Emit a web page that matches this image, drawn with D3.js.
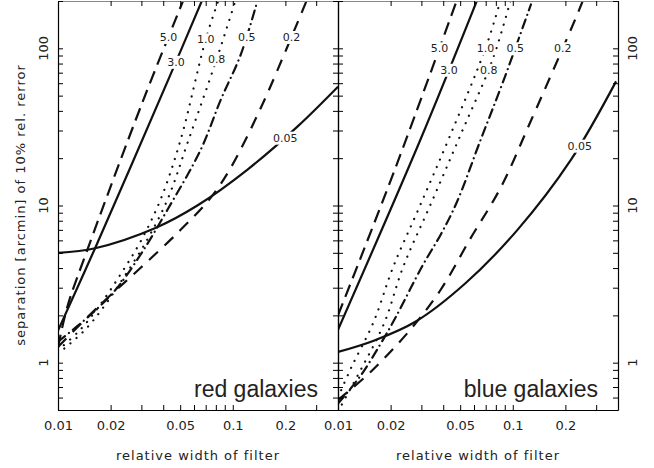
<!DOCTYPE html>
<html>
<head>
<meta charset="utf-8">
<script src="https://cdn.jsdelivr.net/npm/d3@7"></script>
<style>
  body { margin: 0; background: #fff; }
  svg { display: block; font-family: "DejaVu Sans", sans-serif; }
</style>
</head>
<body>
<script>
// axis ticks
const xTicks = [0.01, 0.02, 0.03, 0.04, 0.05, 0.06, 0.07, 0.08, 0.09, 0.1, 0.2, 0.3, 0.4];
const xTickLabels = [0.01, 0.02, 0.05, 0.1, 0.2];
const yTicks = [0.5, 0.6, 0.7, 0.8, 0.9, 1, 2, 3, 4, 5, 6, 7, 8, 9, 10, 20, 30, 40, 50, 60, 70, 80, 90, 100, 200];
const yTickLabels = [1, 10, 100];

const curveNames = ["5.0", "3.0", "1.0", "0.8", "0.5", "0.2", "0.05"];

// red galaxies, [relative width, separation]
const red50 = [[0.01, 1.25], [0.0113, 2.26], [0.0147, 5.2], [0.0308, 47], [0.0523, 204]];
const red30 = [[0.01, 1.6], [0.0163, 5.35], [0.044, 68], [0.067, 204]];
const red10 = [[0.01, 1.2], [0.0134, 1.62], [0.0174, 2.33], [0.0227, 3.62], [0.0296, 5.87], [0.0386, 10.9], [0.0503, 26.2], [0.070, 114], [0.0831, 204]];
const red08 = [[0.01, 1.14], [0.0143, 1.62], [0.0186, 2.33], [0.0243, 3.62], [0.0325, 6.1], [0.0423, 10.9], [0.0559, 26.2], [0.0799, 82], [0.104, 204]];
const red05 = [[0.01, 1.36], [0.0153, 2.01], [0.0213, 2.9], [0.0296, 4.85], [0.0423, 9.4], [0.0655, 22.6], [0.0853, 47], [0.111, 91], [0.139, 204]];
const red02 = [[0.01, 1.26], [0.0174, 2.33], [0.0296, 4.0], [0.0503, 7.0], [0.0747, 11.2], [0.0974, 17.4], [0.145, 42], [0.202, 98], [0.266, 204]];
const red005 = [[0.01, 5.0], [0.0163, 5.35], [0.0361, 7.2], [0.0627, 10], [0.122, 17], [0.236, 32], [0.4, 57]];

// blue galaxies
const blue50 = [[0.01, 2.0], [0.0213, 17.3], [0.048, 204]];
const blue30 = [[0.01, 1.62], [0.0296, 26.2], [0.0627, 204]];
const blue10 = [[0.01, 0.6], [0.0119, 0.93], [0.0159, 1.79], [0.0207, 4.07], [0.0296, 10.1], [0.044, 28.2], [0.070, 101], [0.0853, 204]];
const blue08 = [[0.01, 0.49], [0.0137, 0.93], [0.0184, 1.79], [0.0236, 4.07], [0.0338, 10.1], [0.0503, 28.2], [0.0767, 85], [0.0974, 204]];
const blue05 = [[0.01, 0.55], [0.0134, 0.82], [0.0174, 1.3], [0.0213, 1.93], [0.0304, 4.13], [0.0386, 6.5], [0.0477, 10.4], [0.0655, 26.2], [0.0888, 63], [0.127, 190]];
const blue02 = [[0.01, 0.58], [0.0153, 0.87], [0.0259, 1.62], [0.0386, 2.9], [0.0574, 6.2], [0.0853, 13], [0.127, 34.6], [0.230, 157], [0.253, 204]];
const blue005 = [[0.01, 1.17], [0.0163, 1.39], [0.0277, 1.82], [0.0536, 3.2], [0.1064, 7.0], [0.215, 19.5], [0.39, 61.6]];

// separation at which each curve label sits
const redLabelAt = [118, 82, 114, 85, 118, 118, 27];
const blueLabelAt = [100, 73, 100, 73, 100, 100, 24];

const lineStyle = {
  "5.0": {dash: "13,7", cap: "butt"},
  "3.0": {dash: null, cap: "butt"},
  "1.0": {dash: "0.1,8", cap: "round"},
  "0.8": {dash: "0.1,8", cap: "round"},
  "0.5": {dash: "9,5,0.1,5", cap: "round"},
  "0.2": {dash: "12,9", cap: "butt"},
  "0.05": {dash: null, cap: "butt"}
};

const width = 654, height = 468;
const plotTop = 1, plotBottom = 410, panelW = 280;

const svg = d3.select("body").append("svg")
    .attr("width", width)
    .attr("height", height);

const y = d3.scaleLog().domain([0.5, 200]).range([plotBottom, plotTop]);

const panels = [
  {name: "red galaxies", x0: 58, curves: [red50, red30, red10, red08, red05, red02, red005], labelAt: redLabelAt},
  {name: "blue galaxies", x0: 338, curves: [blue50, blue30, blue10, blue08, blue05, blue02, blue005], labelAt: blueLabelAt}
];

panels.forEach((p, pi) => {
  const x = d3.scaleLog().domain([0.01, 0.4]).range([p.x0, p.x0 + panelW]);
  const g = svg.append("g");

  const clipId = "clip" + pi;
  svg.append("clipPath").attr("id", clipId)
    .append("rect")
      .attr("x", p.x0).attr("y", plotTop)
      .attr("width", panelW).attr("height", plotBottom - plotTop);

  const line = d3.line()
      .x(d => x(d[0]))
      .y(d => y(d[1]))
      .curve(d3.curveCatmullRom.alpha(0.5));

  const cg = g.append("g").attr("clip-path", `url(#${clipId})`);
  const paths = p.curves.map((c, i) => {
    const st = lineStyle[curveNames[i]];
    return cg.append("path")
        .attr("d", line(c))
        .attr("fill", "none")
        .attr("stroke", "#111")
        .attr("stroke-width", 2.2)
        .attr("stroke-linecap", st.cap)
        .attr("stroke-dasharray", st.dash);
  });

  // curve labels, placed on the curve with a white box
  paths.forEach((path, i) => {
    const node = path.node();
    const len = node.getTotalLength();
    const ty = y(p.labelAt[i]);
    let best = null;
    for (let l = 0; l <= len; l += 0.5) {
      const pt = node.getPointAtLength(l);
      if (!best || Math.abs(pt.y - ty) < Math.abs(best.y - ty)) best = pt;
    }
    const lg = g.append("g").attr("transform", `translate(${best.x},${ty})`);
    const t = lg.append("text")
        .attr("text-anchor", "middle")
        .attr("dy", "0.36em")
        .attr("font-size", 11)
        .attr("fill", "#222")
        .text(curveNames[i]);
    const bb = t.node().getBBox();
    lg.insert("rect", "text")
        .attr("x", bb.x - 1).attr("y", bb.y)
        .attr("width", bb.width + 2).attr("height", bb.height)
        .attr("fill", "#fff");
  });

  // axes, ticks pointing inward
  const fmt = d => xTickLabels.includes(d) ? String(d) : "";
  const ax = g.append("g")
      .attr("transform", `translate(0,${plotBottom})`)
      .call(d3.axisBottom(x).tickValues(xTicks).tickFormat(fmt)
        .tickSizeInner(-5).tickSizeOuter(0).tickPadding(11));
  ax.selectAll("text").attr("font-size", 13).attr("fill", "#222").attr("font-family", "DejaVu Sans");

  g.append("g")
      .attr("transform", `translate(0,${plotTop})`)
      .call(d3.axisTop(x).tickValues(xTicks).tickFormat("")
        .tickSizeInner(-5).tickSizeOuter(0))
    .select(".domain").attr("stroke", "#888");

  g.append("g")
      .attr("transform", `translate(${p.x0},0)`)
      .call(d3.axisLeft(y).tickValues(yTicks).tickFormat("")
        .tickSizeInner(-5).tickSizeOuter(0));
  g.append("g")
      .attr("transform", `translate(${p.x0 + panelW},0)`)
      .call(d3.axisRight(y).tickValues(yTicks).tickFormat("")
        .tickSizeInner(-5).tickSizeOuter(0));
  g.selectAll(".domain").attr("stroke-width", 1.2);

  g.append("text")
      .attr("x", p.x0 + panelW / 2)
      .attr("y", 460)
      .attr("text-anchor", "middle")
      .attr("font-size", 13)
      .attr("letter-spacing", 1)
      .attr("fill", "#222")
      .text("relative width of filter");

  g.append("text")
      .attr("x", p.x0 + panelW - 20)
      .attr("y", 397)
      .attr("text-anchor", "end")
      .attr("font-family", "Liberation Sans")
      .attr("font-size", 23)
      .attr("fill", "#222")
      .text(p.name);
});

// rotated y tick labels on outer sides
[43, 632].forEach(lx => {
  svg.append("g").selectAll("text")
    .data(yTickLabels)
    .join("text")
      .attr("transform", d => `translate(${lx},${y(d)}) rotate(-90)`)
      .attr("text-anchor", "middle")
      .attr("dy", "0.36em")
      .attr("font-size", 13)
      .attr("fill", "#222")
      .text(d => d);
});

svg.append("text")
    .attr("transform", `translate(25,205) rotate(-90)`)
    .attr("text-anchor", "middle")
    .attr("font-size", 13)
    .attr("letter-spacing", 1)
    .attr("fill", "#222")
    .text("separation [arcmin] of 10% rel. rerror");
</script>
</body>
</html>
